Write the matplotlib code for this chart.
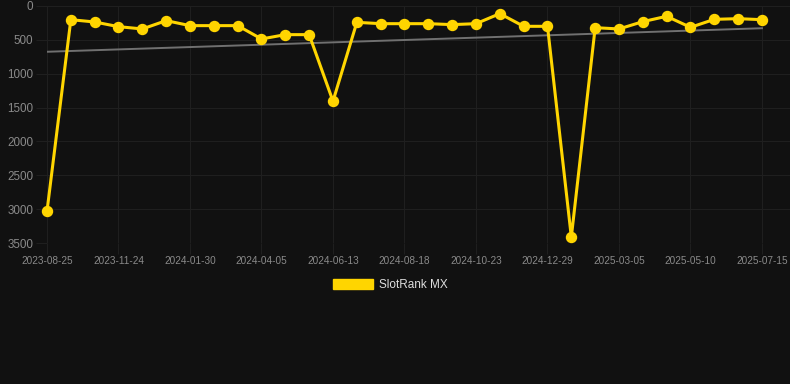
import numpy as np
import matplotlib
matplotlib.use('Agg')
import matplotlib.pyplot as plt
from matplotlib.patches import Patch

# Data (rank over time, lower is better)
dates = ['2023-08-25', '2023-11-24', '2024-01-30', '2024-04-05', '2024-06-13', '2024-08-18',
         '2024-10-23', '2024-12-29', '2025-03-05', '2025-05-10', '2025-07-15']
rank = [3030, 202, 236, 305, 339, 216, 290, 290, 290, 487, 423, 423, 1406, 241, 261,
        261, 261, 275, 261, 113, 300, 300, 3412, 320, 339, 231, 152, 315, 197, 187, 202]
series_name = 'SlotRank MX'

plt.rcParams['font.family'] = ['Liberation Sans', 'DejaVu Sans']

BG = '#111111'
GRID = '#1f1f1f'
TICK = '#8a8a8a'
GOLD = '#ffd500'

x = np.arange(len(rank))
tick_pos = np.arange(0, len(rank), 3)

fig = plt.figure(figsize=(7.9, 3.84), dpi=100, facecolor=BG)
ax = fig.add_axes([47 / 790, 1 - 243 / 384, 743 / 790, 237 / 384], facecolor=BG)

# trend line (least squares fit)
slope, intercept = np.polyfit(x, rank, 1)
ax.plot(x, slope * x + intercept, color='#707070', lw=1.4, zorder=2)

ax.plot(x, rank, color=GOLD, lw=2.2, marker='o', markersize=7.2,
        solid_joinstyle='miter', zorder=3, clip_on=False)

ax.set_ylim(3500, 0)
ax.set_yticks([0, 500, 1000, 1500, 2000, 2500, 3000, 3500])
ax.set_xlim(0, 30 + 28 / 23.83)
ax.set_xticks(tick_pos)
ax.set_xticklabels(dates)

ax.grid(True, color=GRID, lw=0.8)
ax.set_axisbelow(True)
for s in ax.spines.values():
    s.set_visible(False)
ax.tick_params(axis='y', colors=GRID, labelcolor=TICK, labelsize=8.4, length=8, pad=2)
ax.tick_params(axis='x', colors=GRID, labelcolor=TICK, labelsize=7.2, length=8, pad=1)

fig.legend(handles=[Patch(facecolor=GOLD, edgecolor=GOLD, label=series_name)],
           loc='center', bbox_to_anchor=(390 / 790, 1 - 285 / 384),
           frameon=False, fontsize=8.5, labelcolor='#dddddd',
           handlelength=3.4, handleheight=0.95, handletextpad=0.5)

fig.savefig('out.png', dpi=100, facecolor=BG)
